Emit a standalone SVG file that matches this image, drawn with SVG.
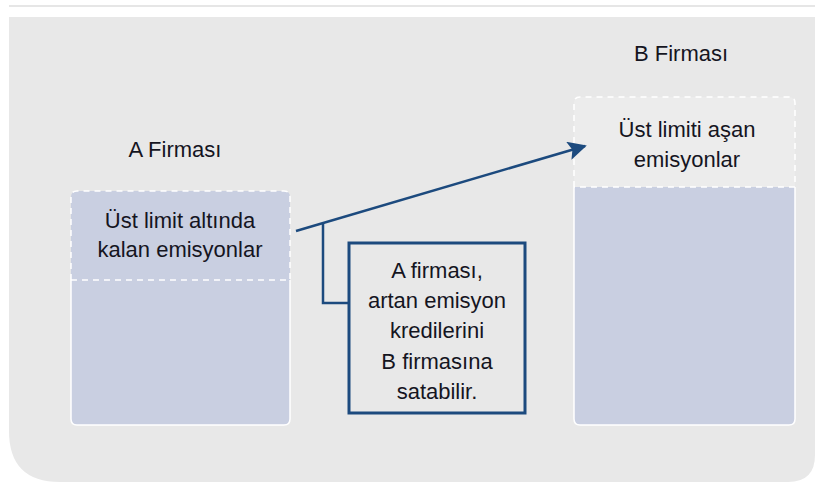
<svg xmlns="http://www.w3.org/2000/svg" width="815" height="484" viewBox="0 0 815 484">
<style>
.t{font-family:"Liberation Sans","Arial",sans-serif;font-size:22px;fill:#15151f;text-anchor:middle}
.fill{fill:#c9cfe1}
.solid{fill:none;stroke:#ffffff;stroke-width:1.5}
.dash{fill:none;stroke:#ffffff;stroke-width:1.5;stroke-dasharray:6 5}
.conn{fill:none;stroke:#1c4a7e;stroke-width:2.5}
</style>
<defs>
<marker id="ah" viewBox="0 0 10 10" refX="9" refY="5" markerWidth="8" markerHeight="7.5" markerUnits="strokeWidth" orient="auto">
<path d="M0,0 L10,5 L0,10 L2,5 z" fill="#1c4a7e"/>
</marker>
</defs>
<rect x="0" y="0" width="815" height="484" fill="#ffffff"/>
<line x1="9" y1="6" x2="815" y2="6" stroke="#e6e6e6" stroke-width="2"/>
<path d="M9,17 H815 V455 Q815,482 788,482 H60 Q9,482 9,431 Z" fill="#e8e8e8"/>

<g id="labelA"><text class="t" x="175" y="157">A Firması</text></g>
<g id="labelB"><text class="t" x="681" y="61">B Firması</text></g>

<g id="boxA">
<path class="fill" d="M77,191 H284 Q290,191 290,197 V419 Q290,425 284,425 H77 Q71,425 71,419 V197 Q71,191 77,191 Z"/>
<path class="solid" d="M71,280 V419 Q71,425 77,425 H284 Q290,425 290,419 V280"/>
<path class="dash" d="M71,280 V197 Q71,191 77,191 H284 Q290,191 290,197 V280 H71"/>
<text class="t" x="180" y="228">Üst limit altında</text>
<text class="t" x="180" y="257">kalan emisyonlar</text>
</g>

<g id="boxB">
<path class="fill" d="M574,187 H795 V419 Q795,425 789,425 H580 Q574,425 574,419 Z"/>
<path fill="#ececec" d="M580,97 H789 Q795,97 795,103 V187 H574 V103 Q574,97 580,97 Z"/>
<path class="solid" d="M574,187 V419 Q574,425 580,425 H789 Q795,425 795,419 V187"/>
<path class="dash" d="M574,187 V103 Q574,97 580,97 H789 Q795,97 795,103 V187 H574"/>
<text class="t" x="687" y="137">Üst limiti aşan</text>
<text class="t" x="687" y="167">emisyonlar</text>
</g>

<g id="callout">
<rect x="349" y="243" width="176" height="170" fill="#e8e8e8" stroke="#1c4a7e" stroke-width="3"/>
<text class="t" x="437" y="278">A firması,</text>
<text class="t" x="437" y="308">artan emisyon</text>
<text class="t" x="437" y="338">kredilerini</text>
<text class="t" x="437" y="369">B firmasına</text>
<text class="t" x="437" y="399">satabilir.</text>
</g>

<g id="connectors">
<line class="conn" x1="296" y1="231" x2="585" y2="146" marker-end="url(#ah)"/>
<path class="conn" d="M323,223 V303 H349" stroke-width="3"/>
</g>
</svg>
